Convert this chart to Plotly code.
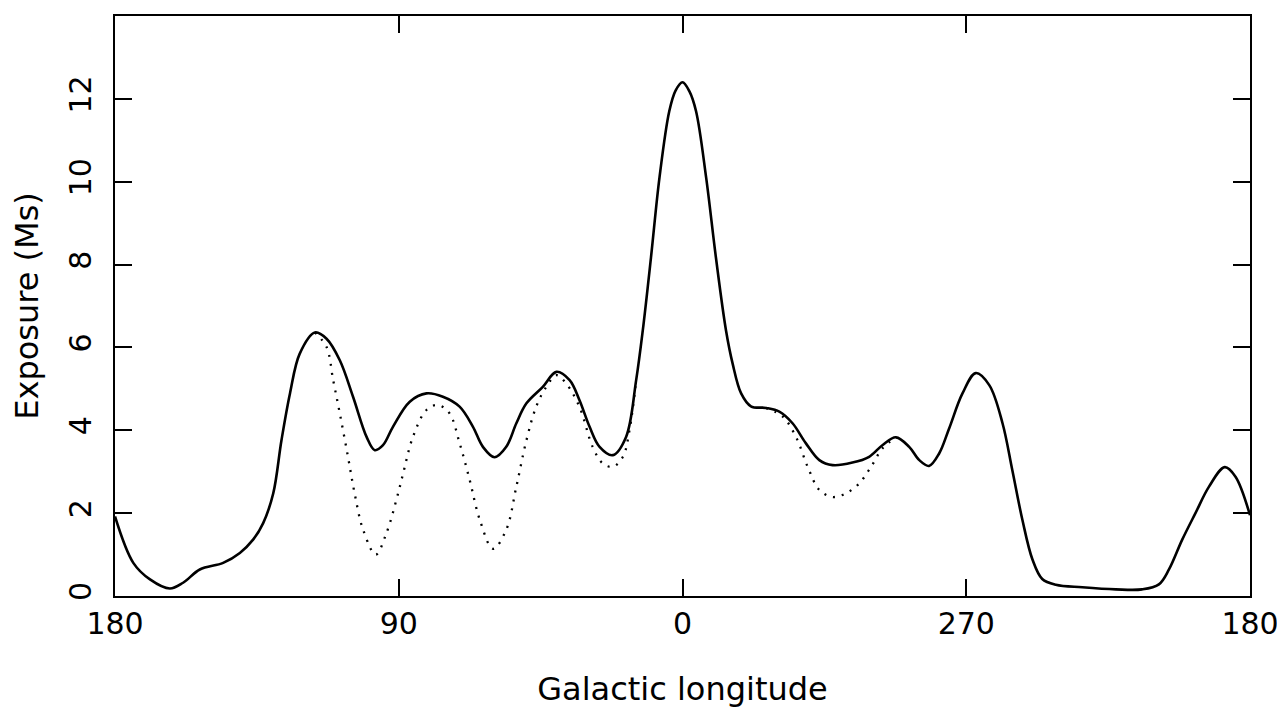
import plotly.graph_objects as go

# Galactic longitude (deg, 180 -> -180 ; -90 shown as 270) and exposure (Ms)
lon_total = [180.0, 174.2, 168.9, 162.6, 158.4, 153.1, 145.7, 140.4, 136.2, 133.0,
             129.8, 127.2, 124.5, 121.4, 116.6, 112.9, 108.7, 104.5, 100.2, 97.6,
             95.0, 91.8, 86.5, 81.2, 76.0, 70.7, 66.5, 63.3, 59.6, 55.9,
             52.7, 49.5, 44.3, 40.0, 35.8, 32.7, 29.5, 26.3, 22.1, 17.9,
             14.7, 12.6, 10.0, 7.3, 4.2, 2.2, 0.0, -2.2, -4.3, -7.5, -10.6, -13.8,
             -15.9, -18.6, -21.7, -26.5, -30.7, -34.9, -39.1, -43.4, -47.6, -53.9,
             -59.2, -63.4, -67.7, -71.9, -75.1, -78.2, -81.4, -84.6, -88.8, -93.0,
             -97.3, -101.5, -104.6, -107.8, -111.0, -114.1, -118.4, -126.8, -137.4, -145.8,
             -151.1, -154.3, -158.5, -162.7, -167.0, -172.0, -175.4, -180.0]
exp_total = [1.92, 0.80, 0.40, 0.18, 0.32, 0.64, 0.80, 1.04, 1.36, 1.76,
             2.48, 3.76, 4.89, 5.85, 6.36, 6.21, 5.69, 4.81, 3.84, 3.52,
             3.64, 4.09, 4.69, 4.89, 4.81, 4.57, 4.09, 3.60, 3.35, 3.60,
             4.17, 4.65, 5.05, 5.41, 5.21, 4.73, 4.09, 3.60, 3.40, 3.84,
             5.21, 6.41, 8.17, 10.10, 11.70, 12.20, 12.40, 12.18, 11.70, 10.10, 8.17, 6.41,
             5.61, 4.89, 4.58, 4.54, 4.45, 4.17, 3.69, 3.28, 3.16, 3.22,
             3.36, 3.64, 3.83, 3.60, 3.28, 3.14, 3.44, 4.05, 4.89, 5.38,
             5.09, 4.17, 3.04, 1.84, 0.88, 0.41, 0.27, 0.21, 0.16, 0.16,
             0.28, 0.64, 1.36, 2.00, 2.64, 3.11, 2.88, 1.95]

# Alternative (dotted) curve, where it departs from the solid one
lon_alt_a = [116.6, 112.9, 110.8, 108.7, 106.1, 104.0, 101.3, 97.3, 93.9, 90.2,
             88.6, 85.5, 81.2, 77.6, 73.9, 70.7, 67.5, 64.3, 60.1, 55.9,
             52.7, 49.5, 46.4, 43.2, 40.0, 36.9, 32.7, 28.5, 25.3, 22.1,
             18.9, 16.8, 14.7]
exp_alt_a = [6.36, 6.01, 5.21, 4.41, 3.36, 2.48, 1.60, 1.00, 1.52, 2.48,
             2.96, 3.84, 4.49, 4.61, 4.41, 3.69, 2.80, 1.84, 1.14, 1.60,
             2.64, 3.76, 4.57, 5.05, 5.33, 5.13, 4.57, 3.60, 3.20, 3.12,
             3.36, 4.01, 5.21]
lon_alt_b = [-26.5, -31.8, -36.0, -39.7, -43.4, -47.6, -51.9, -56.1, -59.8, -63.4, -67.7]
exp_alt_b = [4.54, 4.33, 3.84, 3.12, 2.56, 2.39, 2.48, 2.72, 3.12, 3.56, 3.83]

x_tickvals = [180, 90, 0, -90, -180]
x_ticktext = ["180", "90", "0", "270", "180"]
y_tickvals = [0, 2, 4, 6, 8, 10, 12]

FONT = "DejaVu Sans"

fig = go.Figure()
for lx, ly in ((lon_alt_a, exp_alt_a), (lon_alt_b, exp_alt_b)):
    fig.add_trace(go.Scatter(x=lx, y=ly, mode="lines",
                             line=dict(color="black", width=2.3, dash="2px,7px",
                                       shape="spline", smoothing=1.0),
                             hoverinfo="skip", showlegend=False))
fig.add_trace(go.Scatter(x=lon_total, y=exp_total, mode="lines",
                         line=dict(color="black", width=2.6, shape="spline", smoothing=1.0),
                         showlegend=False))

axis_common = dict(showline=True, linecolor="black", linewidth=2.2, mirror="ticks",
                   ticks="inside", ticklen=17, tickwidth=2, tickcolor="black",
                   showgrid=False, zeroline=False, ticklabeloverflow="allow",
                   tickfont=dict(family=FONT, size=30, color="black"))

fig.update_xaxes(range=[180, -180], tickmode="array", tickvals=x_tickvals,
                 ticktext=x_ticktext, ticklabelstandoff=0,
                 title=dict(text="Galactic longitude", standoff=38,
                            font=dict(family=FONT, size=32, color="black")),
                 **axis_common)
fig.update_yaxes(range=[0, 14], tickmode="array", tickvals=y_tickvals,
                 tickangle=-90, ticklabelstandoff=10,
                 title=dict(text="Exposure (Ms)", standoff=16,
                            font=dict(family=FONT, size=32, color="black")),
                 **axis_common)

# page body has an 8px margin: offset figure so the plot frame lands in place
fig.update_layout(width=1277, height=700,
                  margin=dict(l=107, r=34, t=6, b=112),
                  paper_bgcolor="white", plot_bgcolor="white",
                  font=dict(family=FONT, color="black"))

fig.write_html("out.html")
